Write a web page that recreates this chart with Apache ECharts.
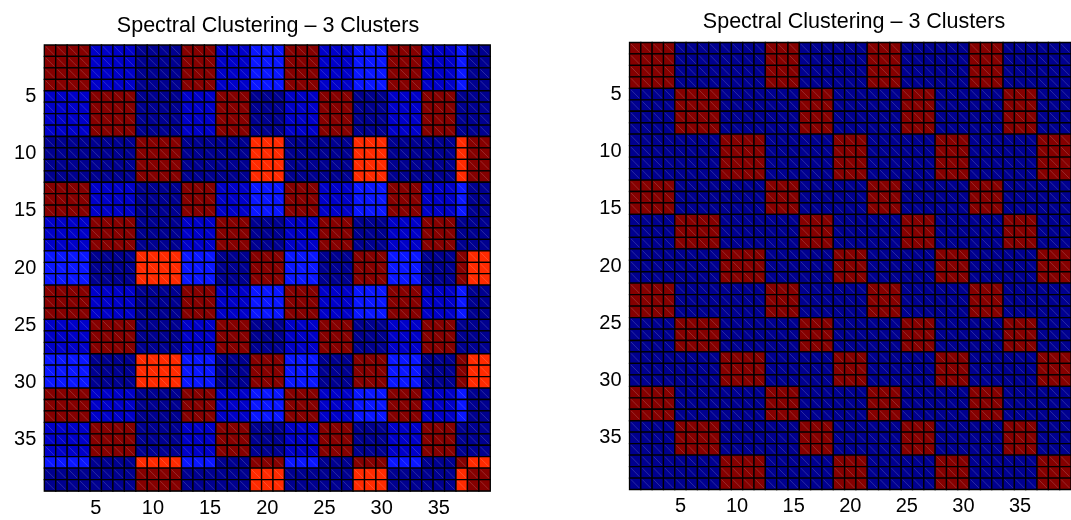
<!DOCTYPE html>
<html>
<head>
<meta charset="utf-8">
<script src="https://cdn.jsdelivr.net/npm/echarts@6/dist/echarts.min.js"></script>
<style>html,body{margin:0;padding:0;background:#fff;}#c{width:1071px;height:520px;}</style>
</head>
<body>
<div id="c"></div>
<script>
// ---- data ----
const titleText = 'Spectral Clustering \u2013 3 Clusters';
const categories = Array.from({length: 39}, (_, i) => String(i + 1));
const tickLabels = ['5', '10', '15', '20', '25', '30', '35'];
// colour level codes -> matrix value
const levelValues = { a: 0.0, b: 0.06, c: 0.12, R: 0.86, D: 1.0 };
const levelColors = { a: '#00008F', b: '#0000C8', c: '#0A16FF', R: '#FF2A00', D: '#850000' };

// left: affinity matrix (rows top to bottom)
const affinityRows = [
  'DDDDbbbbaaaaDDDbbbcccDDDbbbcccDDDbbbcaa',
  'DDDDbbbbaaaaDDDbbbcccDDDbbbcccDDDbbbcaa',
  'DDDDbbbbaaaaDDDbbbcccDDDbbbcccDDDbbbcaa',
  'DDDDbbbbaaaaDDDbbbcccDDDbbbcccDDDbbbcaa',
  'bbbbDDDDaaaabbbDDDaaabbbDDDaaabbbDDDaaa',
  'bbbbDDDDaaaabbbDDDaaabbbDDDaaabbbDDDaaa',
  'bbbbDDDDaaaabbbDDDaaabbbDDDaaabbbDDDaaa',
  'bbbbDDDDaaaabbbDDDaaabbbDDDaaabbbDDDaaa',
  'aaaaaaaaDDDDaaaaaaRRRaaaaaaRRRaaaaaaRDD',
  'aaaaaaaaDDDDaaaaaaRRRaaaaaaRRRaaaaaaRDD',
  'aaaaaaaaDDDDaaaaaaRRRaaaaaaRRRaaaaaaRDD',
  'aaaaaaaaDDDDaaaaaaRRRaaaaaaRRRaaaaaaRDD',
  'DDDDbbbbaaaaDDDbbbcccDDDbbbcccDDDbbbcaa',
  'DDDDbbbbaaaaDDDbbbcccDDDbbbcccDDDbbbcaa',
  'DDDDbbbbaaaaDDDbbbcccDDDbbbcccDDDbbbcaa',
  'bbbbDDDDaaaabbbDDDaaabbbDDDaaabbbDDDaaa',
  'bbbbDDDDaaaabbbDDDaaabbbDDDaaabbbDDDaaa',
  'bbbbDDDDaaaabbbDDDaaabbbDDDaaabbbDDDaaa',
  'ccccaaaaRRRRcccaaaDDDcccaaaDDDcccaaaDRR',
  'ccccaaaaRRRRcccaaaDDDcccaaaDDDcccaaaDRR',
  'ccccaaaaRRRRcccaaaDDDcccaaaDDDcccaaaDRR',
  'DDDDbbbbaaaaDDDbbbcccDDDbbbcccDDDbbbcaa',
  'DDDDbbbbaaaaDDDbbbcccDDDbbbcccDDDbbbcaa',
  'DDDDbbbbaaaaDDDbbbcccDDDbbbcccDDDbbbcaa',
  'bbbbDDDDaaaabbbDDDaaabbbDDDaaabbbDDDaaa',
  'bbbbDDDDaaaabbbDDDaaabbbDDDaaabbbDDDaaa',
  'bbbbDDDDaaaabbbDDDaaabbbDDDaaabbbDDDaaa',
  'ccccaaaaRRRRcccaaaDDDcccaaaDDDcccaaaDRR',
  'ccccaaaaRRRRcccaaaDDDcccaaaDDDcccaaaDRR',
  'ccccaaaaRRRRcccaaaDDDcccaaaDDDcccaaaDRR',
  'DDDDbbbbaaaaDDDbbbcccDDDbbbcccDDDbbbcaa',
  'DDDDbbbbaaaaDDDbbbcccDDDbbbcccDDDbbbcaa',
  'DDDDbbbbaaaaDDDbbbcccDDDbbbcccDDDbbbcaa',
  'bbbbDDDDaaaabbbDDDaaabbbDDDaaabbbDDDaaa',
  'bbbbDDDDaaaabbbDDDaaabbbDDDaaabbbDDDaaa',
  'bbbbDDDDaaaabbbDDDaaabbbDDDaaabbbDDDaaa',
  'ccccaaaaRRRRcccaaaDDDcccaaaDDDcccaaaDRR',
  'aaaaaaaaDDDDaaaaaaRRRaaaaaaRRRaaaaaaRDD',
  'aaaaaaaaDDDDaaaaaaRRRaaaaaaRRRaaaaaaRDD'
];

// right: cluster co-membership matrix
const clusterRows = [
  'DDDDaaaaaaaaDDDaaaaaaDDDaaaaaaDDDaaaaaa',
  'DDDDaaaaaaaaDDDaaaaaaDDDaaaaaaDDDaaaaaa',
  'DDDDaaaaaaaaDDDaaaaaaDDDaaaaaaDDDaaaaaa',
  'DDDDaaaaaaaaDDDaaaaaaDDDaaaaaaDDDaaaaaa',
  'aaaaDDDDaaaaaaaDDDaaaaaaDDDaaaaaaDDDaaa',
  'aaaaDDDDaaaaaaaDDDaaaaaaDDDaaaaaaDDDaaa',
  'aaaaDDDDaaaaaaaDDDaaaaaaDDDaaaaaaDDDaaa',
  'aaaaDDDDaaaaaaaDDDaaaaaaDDDaaaaaaDDDaaa',
  'aaaaaaaaDDDDaaaaaaDDDaaaaaaDDDaaaaaaDDD',
  'aaaaaaaaDDDDaaaaaaDDDaaaaaaDDDaaaaaaDDD',
  'aaaaaaaaDDDDaaaaaaDDDaaaaaaDDDaaaaaaDDD',
  'aaaaaaaaDDDDaaaaaaDDDaaaaaaDDDaaaaaaDDD',
  'DDDDaaaaaaaaDDDaaaaaaDDDaaaaaaDDDaaaaaa',
  'DDDDaaaaaaaaDDDaaaaaaDDDaaaaaaDDDaaaaaa',
  'DDDDaaaaaaaaDDDaaaaaaDDDaaaaaaDDDaaaaaa',
  'aaaaDDDDaaaaaaaDDDaaaaaaDDDaaaaaaDDDaaa',
  'aaaaDDDDaaaaaaaDDDaaaaaaDDDaaaaaaDDDaaa',
  'aaaaDDDDaaaaaaaDDDaaaaaaDDDaaaaaaDDDaaa',
  'aaaaaaaaDDDDaaaaaaDDDaaaaaaDDDaaaaaaDDD',
  'aaaaaaaaDDDDaaaaaaDDDaaaaaaDDDaaaaaaDDD',
  'aaaaaaaaDDDDaaaaaaDDDaaaaaaDDDaaaaaaDDD',
  'DDDDaaaaaaaaDDDaaaaaaDDDaaaaaaDDDaaaaaa',
  'DDDDaaaaaaaaDDDaaaaaaDDDaaaaaaDDDaaaaaa',
  'DDDDaaaaaaaaDDDaaaaaaDDDaaaaaaDDDaaaaaa',
  'aaaaDDDDaaaaaaaDDDaaaaaaDDDaaaaaaDDDaaa',
  'aaaaDDDDaaaaaaaDDDaaaaaaDDDaaaaaaDDDaaa',
  'aaaaDDDDaaaaaaaDDDaaaaaaDDDaaaaaaDDDaaa',
  'aaaaaaaaDDDDaaaaaaDDDaaaaaaDDDaaaaaaDDD',
  'aaaaaaaaDDDDaaaaaaDDDaaaaaaDDDaaaaaaDDD',
  'aaaaaaaaDDDDaaaaaaDDDaaaaaaDDDaaaaaaDDD',
  'DDDDaaaaaaaaDDDaaaaaaDDDaaaaaaDDDaaaaaa',
  'DDDDaaaaaaaaDDDaaaaaaDDDaaaaaaDDDaaaaaa',
  'DDDDaaaaaaaaDDDaaaaaaDDDaaaaaaDDDaaaaaa',
  'aaaaDDDDaaaaaaaDDDaaaaaaDDDaaaaaaDDDaaa',
  'aaaaDDDDaaaaaaaDDDaaaaaaDDDaaaaaaDDDaaa',
  'aaaaDDDDaaaaaaaDDDaaaaaaDDDaaaaaaDDDaaa',
  'aaaaaaaaDDDDaaaaaaDDDaaaaaaDDDaaaaaaDDD',
  'aaaaaaaaDDDDaaaaaaDDDaaaaaaDDDaaaaaaDDD',
  'aaaaaaaaDDDDaaaaaaDDDaaaaaaDDDaaaaaaDDD'
];

// ---- build chart ----
function toCells(rows) {
  const out = [];
  rows.forEach((row, r) => {
    for (let c = 0; c < row.length; c++) out.push([c, r, levelValues[row[c]]]);
  });
  return out;
}

const chart = echarts.init(document.getElementById('c'), null, { renderer: 'canvas' });

function renderItem(params, api) {
  const p = api.coord([api.value(0), api.value(1)]);
  const s = api.size([1, 1]);
  const x = p[0] - s[0] / 2, y = p[1] - s[1] / 2;
  const col = api.visual('color');
  const light = echarts.color.lift(col, 0.35);
  return {
    type: 'group',
    children: [
      { type: 'rect', shape: { x: x, y: y, width: s[0], height: s[1] },
        style: { fill: col, stroke: '#000', lineWidth: 1.3 } },
      { type: 'line', shape: { x1: x + 1.5, y1: y + 1.5, x2: x + s[0] - 1.5, y2: y + s[1] - 1.5 },
        style: { stroke: light, lineWidth: 0.8, opacity: 0.6 } }
    ]
  };
}

const fontFam = '"Liberation Sans", Arial, Helvetica, sans-serif';
function xAxisFor(gi) {
  return {
    type: 'category', gridIndex: gi, data: categories, position: 'bottom',
    axisLine: { show: true, lineStyle: { color: '#aaa', width: 1 } },
    axisTick: { show: false }, splitLine: { show: false },
    axisLabel: { interval: (i, v) => tickLabels.includes(v), color: '#000', fontSize: 20, fontFamily: fontFam, margin: 7 }
  };
}
function yAxisFor(gi) {
  return {
    type: 'category', gridIndex: gi, data: categories, inverse: true,
    axisLine: { show: true, lineStyle: { color: '#aaa', width: 1 } },
    axisTick: { show: false }, splitLine: { show: false },
    axisLabel: { interval: (i, v) => tickLabels.includes(v), color: '#000', fontSize: 20, fontFamily: fontFam, margin: 8 }
  };
}

const pieces = Object.keys(levelValues).map(k => ({ value: levelValues[k], color: levelColors[k] }));

chart.setOption({
  animation: false,
  backgroundColor: '#fff',
  title: [
    { text: titleText, left: 263, top: 10, textAlign: 'center',
      textStyle: { fontSize: 21.5, fontWeight: 'normal', color: '#000', fontFamily: fontFam } },
    { text: titleText, left: 849, top: 6, textAlign: 'center',
      textStyle: { fontSize: 21.5, fontWeight: 'normal', color: '#000', fontFamily: fontFam } }
  ],
  grid: [
    { left: 44.3, top: 45, width: 446, height: 446, containLabel: false },
    { left: 629.5, top: 42.5, width: 447, height: 447, containLabel: false }
  ],
  xAxis: [xAxisFor(0), xAxisFor(1)],
  yAxis: [yAxisFor(0), yAxisFor(1)],
  visualMap: { show: false, type: 'piecewise', dimension: 2, seriesIndex: [0, 1], pieces: pieces },
  series: [
    { type: 'custom', xAxisIndex: 0, yAxisIndex: 0, renderItem: renderItem, data: toCells(affinityRows), encode: { x: 0, y: 1 } },
    { type: 'custom', xAxisIndex: 1, yAxisIndex: 1, renderItem: renderItem, data: toCells(clusterRows), encode: { x: 0, y: 1 } }
  ]
});
</script>
</body>
</html>
